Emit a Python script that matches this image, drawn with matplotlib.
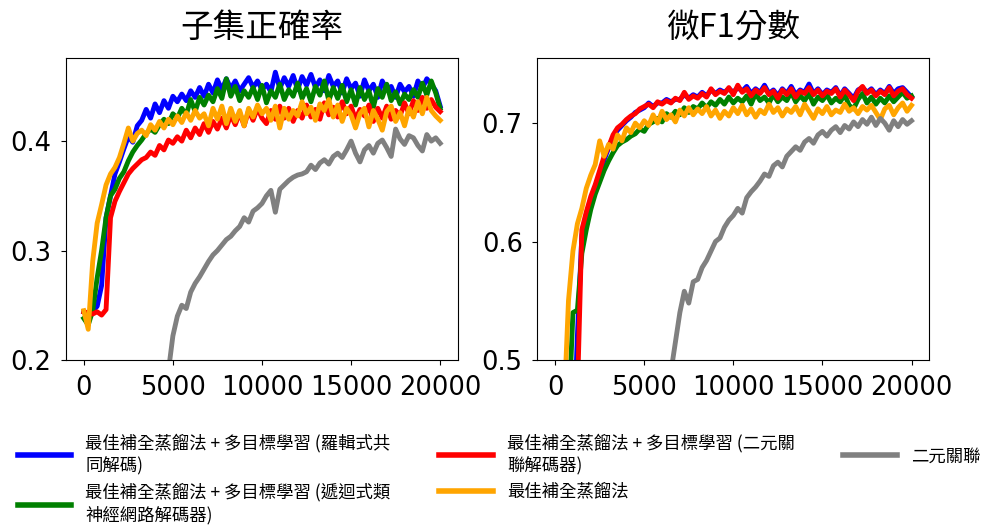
import matplotlib
matplotlib.use('Agg')
import matplotlib.pyplot as plt

plt.rcParams['font.family'] = ['Noto Sans CJK TC', 'DejaVu Sans']

# evaluation steps (every 250 training steps)
steps = list(range(0, 20001, 250))

# 子集正確率 (subset accuracy)
acc_blue = [0.244, 0.243, 0.245, 0.249, 0.268, 0.330, 0.350, 0.370, 0.381, 0.393,
            0.404, 0.399, 0.414, 0.419, 0.429, 0.421, 0.434, 0.426, 0.437, 0.430,
            0.441, 0.436, 0.443, 0.437, 0.446, 0.440, 0.449, 0.441, 0.452, 0.444,
            0.456, 0.447, 0.457, 0.448, 0.455, 0.446, 0.452, 0.458, 0.449, 0.455,
            0.447, 0.452, 0.445, 0.463, 0.448, 0.458, 0.450, 0.460, 0.447, 0.459,
            0.451, 0.461, 0.449, 0.456, 0.446, 0.460, 0.450, 0.455, 0.444, 0.457,
            0.448, 0.453, 0.441, 0.456, 0.446, 0.452, 0.440, 0.455, 0.447, 0.450,
            0.440, 0.452, 0.445, 0.450, 0.441, 0.455, 0.448, 0.457, 0.452, 0.446,
            0.432]
acc_green = [0.238, 0.232, 0.245, 0.275, 0.300, 0.330, 0.350, 0.356, 0.366, 0.372,
             0.382, 0.390, 0.396, 0.401, 0.407, 0.411, 0.408, 0.415, 0.420, 0.416,
             0.425, 0.421, 0.430, 0.424, 0.438, 0.427, 0.440, 0.433, 0.442, 0.436,
             0.448, 0.439, 0.457, 0.441, 0.450, 0.437, 0.446, 0.440, 0.449, 0.438,
             0.451, 0.435, 0.446, 0.440, 0.452, 0.438, 0.447, 0.441, 0.453, 0.439,
             0.448, 0.436, 0.450, 0.442, 0.455, 0.437, 0.449, 0.439, 0.451, 0.436,
             0.447, 0.433, 0.449, 0.438, 0.446, 0.431, 0.448, 0.440, 0.452, 0.437,
             0.445, 0.434, 0.443, 0.438, 0.447, 0.440, 0.453, 0.442, 0.455, 0.444,
             0.430]
acc_red = [0.244, 0.243, 0.242, 0.244, 0.241, 0.246, 0.330, 0.345, 0.354, 0.362,
           0.370, 0.375, 0.379, 0.383, 0.385, 0.390, 0.387, 0.396, 0.392, 0.401,
           0.398, 0.404, 0.400, 0.410, 0.403, 0.412, 0.406, 0.416, 0.408, 0.418,
           0.411, 0.421, 0.412, 0.424, 0.415, 0.426, 0.414, 0.428, 0.419, 0.430,
           0.421, 0.416, 0.428, 0.420, 0.432, 0.421, 0.430, 0.418, 0.428, 0.421,
           0.433, 0.422, 0.429, 0.420, 0.435, 0.424, 0.431, 0.422, 0.436, 0.425,
           0.432, 0.420, 0.429, 0.423, 0.433, 0.418, 0.430, 0.421, 0.432, 0.420,
           0.428, 0.423, 0.435, 0.425, 0.437, 0.428, 0.440, 0.430, 0.438, 0.431,
           0.427]
acc_orange = [0.245, 0.228, 0.290, 0.325, 0.342, 0.360, 0.370, 0.376, 0.385, 0.398,
              0.412, 0.400, 0.407, 0.410, 0.405, 0.415, 0.410, 0.418, 0.412, 0.420,
              0.415, 0.423, 0.417, 0.426, 0.419, 0.428, 0.421, 0.425, 0.414, 0.430,
              0.420, 0.432, 0.416, 0.430, 0.418, 0.428, 0.414, 0.430, 0.422, 0.433,
              0.425, 0.430, 0.419, 0.432, 0.412, 0.430, 0.420, 0.428, 0.423, 0.436,
              0.425, 0.431, 0.419, 0.434, 0.428, 0.438, 0.422, 0.433, 0.418, 0.430,
              0.424, 0.412, 0.425, 0.430, 0.413, 0.428, 0.420, 0.410, 0.427, 0.432,
              0.418, 0.426, 0.414, 0.430, 0.422, 0.436, 0.425, 0.440, 0.428, 0.423,
              0.419]
# 二元關聯 starts later (from step 4500)
acc_gray = [0.150, 0.190, 0.222, 0.240, 0.250, 0.247, 0.262, 0.270, 0.276, 0.283,
            0.290, 0.296, 0.300, 0.305, 0.310, 0.313, 0.318, 0.322, 0.330, 0.326,
            0.336, 0.339, 0.343, 0.350, 0.355, 0.335, 0.356, 0.360, 0.364, 0.367,
            0.369, 0.370, 0.372, 0.378, 0.374, 0.380, 0.383, 0.379, 0.386, 0.389,
            0.385, 0.392, 0.400, 0.389, 0.381, 0.392, 0.396, 0.389, 0.398, 0.401,
            0.394, 0.386, 0.411, 0.402, 0.397, 0.405, 0.403, 0.396, 0.391, 0.406,
            0.400, 0.403, 0.398]

# 微F1分數 (micro F1)
f1_blue = [0.300, 0.310, 0.330, 0.360, 0.420, 0.520, 0.605, 0.622, 0.634, 0.646,
           0.657, 0.669, 0.679, 0.688, 0.694, 0.698, 0.702, 0.705, 0.709, 0.711,
           0.713, 0.717, 0.714, 0.717, 0.717, 0.720, 0.718, 0.720, 0.720, 0.724,
           0.721, 0.724, 0.722, 0.726, 0.723, 0.728, 0.725, 0.728, 0.726, 0.729,
           0.726, 0.730, 0.727, 0.731, 0.725, 0.729, 0.726, 0.732, 0.725, 0.728,
           0.723, 0.729, 0.725, 0.731, 0.724, 0.728, 0.726, 0.733, 0.725, 0.729,
           0.724, 0.728, 0.726, 0.730, 0.723, 0.729, 0.725, 0.721, 0.728, 0.730,
           0.726, 0.729, 0.724, 0.728, 0.725, 0.731, 0.725, 0.729, 0.730, 0.726,
           0.722]
f1_green = [0.300, 0.320, 0.360, 0.450, 0.540, 0.542, 0.590, 0.610, 0.627, 0.640,
            0.650, 0.660, 0.668, 0.675, 0.681, 0.684, 0.686, 0.689, 0.691, 0.695,
            0.693, 0.699, 0.701, 0.704, 0.701, 0.708, 0.705, 0.710, 0.707, 0.713,
            0.709, 0.714, 0.712, 0.717, 0.713, 0.718, 0.715, 0.720, 0.716, 0.722,
            0.717, 0.721, 0.718, 0.723, 0.716, 0.725, 0.719, 0.722, 0.717, 0.724,
            0.718, 0.722, 0.719, 0.726, 0.718, 0.723, 0.719, 0.725, 0.716, 0.722,
            0.719, 0.724, 0.717, 0.721, 0.718, 0.724, 0.715, 0.712, 0.720, 0.725,
            0.717, 0.722, 0.716, 0.721, 0.717, 0.723, 0.718, 0.722, 0.726, 0.721,
            0.723]
f1_red = [0.300, 0.310, 0.330, 0.350, 0.400, 0.470, 0.610, 0.625, 0.638, 0.648,
          0.660, 0.672, 0.680, 0.690, 0.696, 0.699, 0.703, 0.706, 0.708, 0.712,
          0.714, 0.716, 0.713, 0.718, 0.716, 0.719, 0.717, 0.721, 0.719, 0.726,
          0.720, 0.723, 0.721, 0.725, 0.722, 0.729, 0.724, 0.727, 0.725, 0.730,
          0.724, 0.732, 0.726, 0.729, 0.723, 0.728, 0.725, 0.730, 0.724, 0.727,
          0.721, 0.728, 0.724, 0.729, 0.722, 0.727, 0.725, 0.730, 0.724, 0.728,
          0.723, 0.727, 0.725, 0.729, 0.722, 0.728, 0.724, 0.719, 0.727, 0.731,
          0.725, 0.728, 0.723, 0.727, 0.724, 0.730, 0.723, 0.727, 0.729, 0.724,
          0.721]
f1_orange = [0.320, 0.380, 0.460, 0.550, 0.592, 0.615, 0.628, 0.645, 0.656, 0.665,
             0.685, 0.672, 0.682, 0.678, 0.690, 0.685, 0.696, 0.692, 0.700, 0.696,
             0.702, 0.698, 0.707, 0.700, 0.710, 0.703, 0.707, 0.701, 0.711, 0.706,
             0.713, 0.707, 0.712, 0.708, 0.714, 0.706, 0.711, 0.704, 0.710, 0.706,
             0.713, 0.708, 0.715, 0.707, 0.712, 0.705, 0.711, 0.708, 0.716, 0.709,
             0.713, 0.706, 0.712, 0.709, 0.714, 0.707, 0.716, 0.710, 0.704, 0.712,
             0.708, 0.714, 0.707, 0.711, 0.709, 0.716, 0.710, 0.713, 0.708, 0.714,
             0.711, 0.715, 0.709, 0.703, 0.712, 0.715, 0.707, 0.713, 0.717, 0.710,
             0.715]
# 二元關聯 starts later (from step 6500)
f1_gray = [0.490, 0.515, 0.540, 0.558, 0.548, 0.566, 0.568, 0.578, 0.584, 0.592,
           0.600, 0.603, 0.612, 0.618, 0.622, 0.628, 0.624, 0.637, 0.642, 0.646,
           0.651, 0.657, 0.655, 0.664, 0.667, 0.663, 0.672, 0.676, 0.680, 0.677,
           0.684, 0.687, 0.683, 0.690, 0.693, 0.689, 0.694, 0.697, 0.692, 0.698,
           0.695, 0.701, 0.697, 0.703, 0.699, 0.705, 0.698, 0.704, 0.700, 0.694,
           0.702, 0.697, 0.703, 0.699, 0.702]

labels = ['最佳補全蒸餾法 + 多目標學習 (羅輯式共\n同解碼)',
          '最佳補全蒸餾法 + 多目標學習 (遞迴式類\n神經網路解碼器)',
          '最佳補全蒸餾法 + 多目標學習 (二元關\n聯解碼器)',
          '最佳補全蒸餾法',
          '二元關聯']
colors = ['blue', 'green', 'red', 'orange', 'gray']

fig = plt.figure(figsize=(9.95, 5.27), dpi=100)
ax1 = fig.add_axes([0.0663, 0.317, 0.394, 0.573])
ax2 = fig.add_axes([0.540, 0.317, 0.394, 0.573])

lw = 3.5
for ax, series in [(ax1, [acc_blue, acc_green, acc_red, acc_orange, acc_gray]),
                   (ax2, [f1_blue, f1_green, f1_red, f1_orange, f1_gray])]:
    handles = []
    for vals, c, lab in zip(series, colors, labels):
        x = steps[-len(vals):]
        h, = ax.plot(x, vals, color=c, lw=lw, label=lab)
        handles.append(h)
    ax.set_xticks([0, 5000, 10000, 15000, 20000])
    ax.tick_params(labelsize=18.5, pad=7)
    for t in ax.get_xticklabels() + ax.get_yticklabels():
        t.set_family('DejaVu Sans')

ax1.set_ylim(0.2, 0.476)
ax1.set_yticks([0.2, 0.3, 0.4])
ax2.set_ylim(0.5, 0.755)
ax2.set_yticks([0.5, 0.6, 0.7])
ax1.set_xlim(-1000, 21000)
ax2.set_xlim(-1000, 21000)

ax1.set_title('子集正確率', fontsize=23.5, pad=15)
ax2.set_title('微F1分數', fontsize=23.5, pad=15)

leg = fig.legend(handles, labels, loc='upper left', bbox_to_anchor=(0.002, 0.207),
                 ncol=3, frameon=False, fontsize=12.5, handlelength=3.1,
                 handletextpad=0.8, columnspacing=2.8, labelspacing=0.45)
for t in leg.get_texts():
    t.set_linespacing(1.3)
for h in leg.legend_handles:
    h.set_linewidth(4)

fig.savefig('out.png', dpi=100)
